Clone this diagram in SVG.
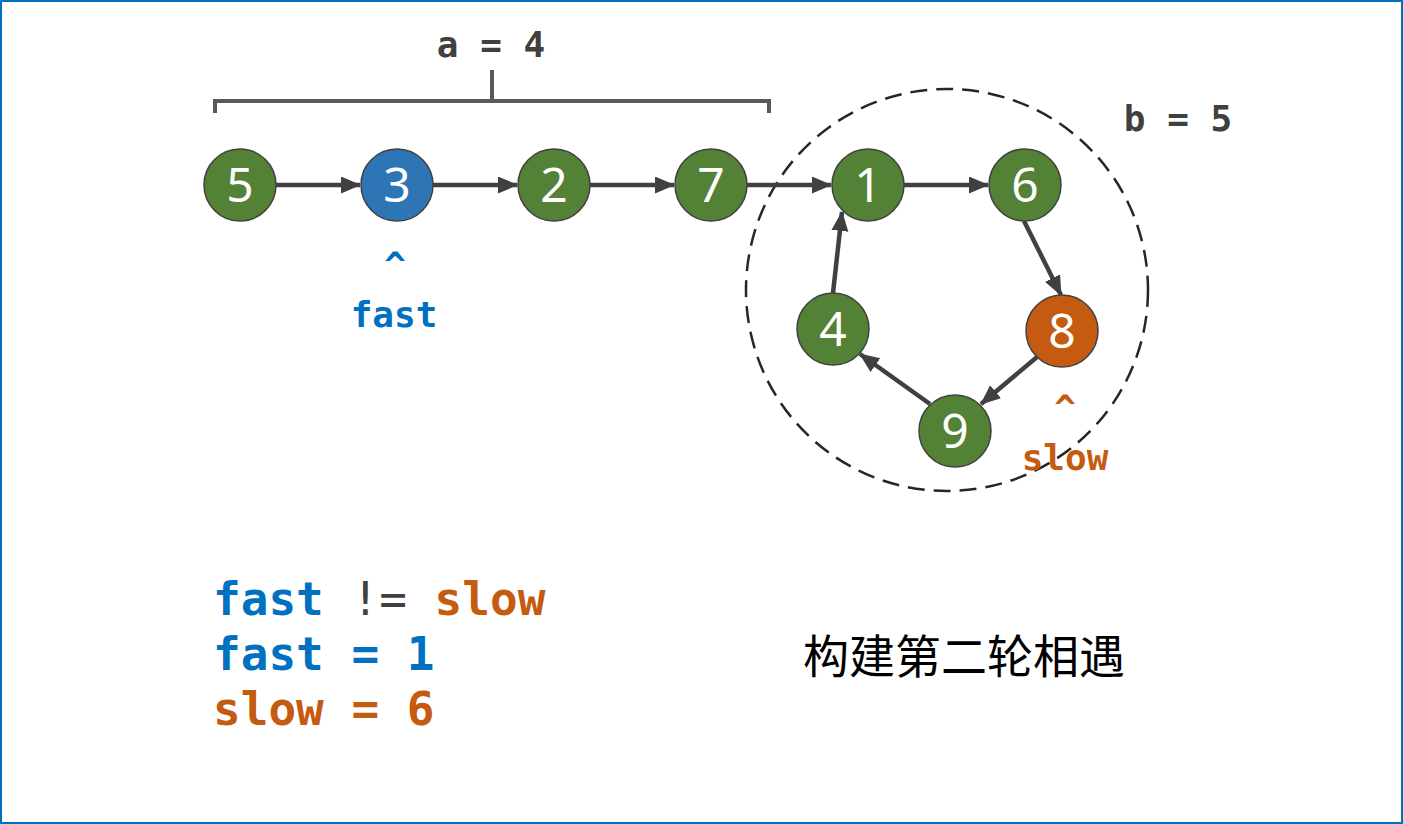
<svg xmlns="http://www.w3.org/2000/svg" width="1403" height="824" viewBox="0 0 1403 824">
<style>
.n circle{stroke:#404040;stroke-width:1.5}
.g{fill:#538135}.b{fill:#2e75b6}.o{fill:#c55a11}
.n text{fill:#fff;font-family:"Noto Sans","Open Sans",sans-serif;font-size:48px;text-anchor:middle}
.m{font-family:"DejaVu Sans Mono","Liberation Mono",monospace;font-weight:bold}
.edge{stroke:#404040;stroke-width:4.5;fill:none;marker-end:url(#ah)}
</style>
<defs>
<marker id="ah" markerUnits="userSpaceOnUse" markerWidth="20" markerHeight="18" refX="19" refY="8.5" orient="auto"><path d="M0,0 L20,8.5 L0,17 z" fill="#404040"/></marker>
</defs>
<rect x="1" y="1" width="1401" height="822" fill="#fff" stroke="#0070c0" stroke-width="2"/>
<g id="bracket" fill="none" stroke="#595959" stroke-width="4">
<path d="M215,113 V101 H769 V113 M492,70 V101"/>
</g>
<text class="m" x="491" y="57" font-size="36" fill="#404040" text-anchor="middle">a = 4</text>
<text class="m" x="1178" y="131" font-size="36" fill="#404040" text-anchor="middle">b = 5</text>
<circle id="cycle" cx="947" cy="290" r="201" fill="none" stroke="#262626" stroke-width="2.5" stroke-dasharray="17,9"/>
<g id="connectors">
<line class="edge" x1="276" y1="185" x2="360" y2="185"/>
<line class="edge" x1="433" y1="185" x2="517" y2="185"/>
<line class="edge" x1="590" y1="185" x2="674" y2="185"/>
<line class="edge" x1="747" y1="185" x2="831" y2="185"/>
<line class="edge" x1="904" y1="185" x2="988" y2="185"/>
<line class="edge" x1="1024" y1="221" x2="1061" y2="295"/>
<line class="edge" x1="1037" y1="357" x2="981" y2="404"/>
<line class="edge" x1="930" y1="404" x2="860" y2="354"/>
<line class="edge" x1="833" y1="293" x2="842" y2="212"/>
</g>
<g id="n5" class="n"><circle class="g" cx="240" cy="185" r="36"/><text x="240" y="202">5</text></g>
<g id="n3" class="n"><circle class="b" cx="397" cy="185" r="36"/><text x="397" y="202">3</text></g>
<g id="n2" class="n"><circle class="g" cx="554" cy="185" r="36"/><text x="554" y="202">2</text></g>
<g id="n7" class="n"><circle class="g" cx="711" cy="185" r="36"/><text x="711" y="202">7</text></g>
<g id="n1" class="n"><circle class="g" cx="868" cy="185" r="36"/><text x="868" y="202">1</text></g>
<g id="n6" class="n"><circle class="g" cx="1025" cy="185" r="36"/><text x="1025" y="202">6</text></g>
<g id="n8" class="n"><circle class="o" cx="1062" cy="331" r="36"/><text x="1062" y="348">8</text></g>
<g id="n9" class="n"><circle class="g" cx="955" cy="431" r="36"/><text x="955" y="448">9</text></g>
<g id="n4" class="n"><circle class="g" cx="833" cy="329" r="36"/><text x="833" y="346">4</text></g>
<g id="fastLabel" class="m" font-size="36" fill="#0070c0" text-anchor="middle">
<text x="395" y="277">^</text>
<text x="394" y="327">fast</text>
</g>
<g id="slowLabel" class="m" font-size="36" fill="#c55a11" text-anchor="middle">
<text x="1065" y="420">^</text>
<text x="1065" y="470">slow</text>
</g>
<g id="status" class="m" font-size="46">
<text x="213" y="615"><tspan fill="#0070c0">fast</tspan><tspan fill="#404040" font-weight="normal"> != </tspan><tspan fill="#c55a11">slow</tspan></text>
<text x="213" y="670" fill="#0070c0">fast = 1</text>
<text x="213" y="725" fill="#c55a11">slow = 6</text>
</g>
<text id="caption" x="964" y="673" font-size="46" text-anchor="middle" fill="#000" font-family="'Noto Sans CJK SC',sans-serif">构建第二轮相遇</text>
</svg>
